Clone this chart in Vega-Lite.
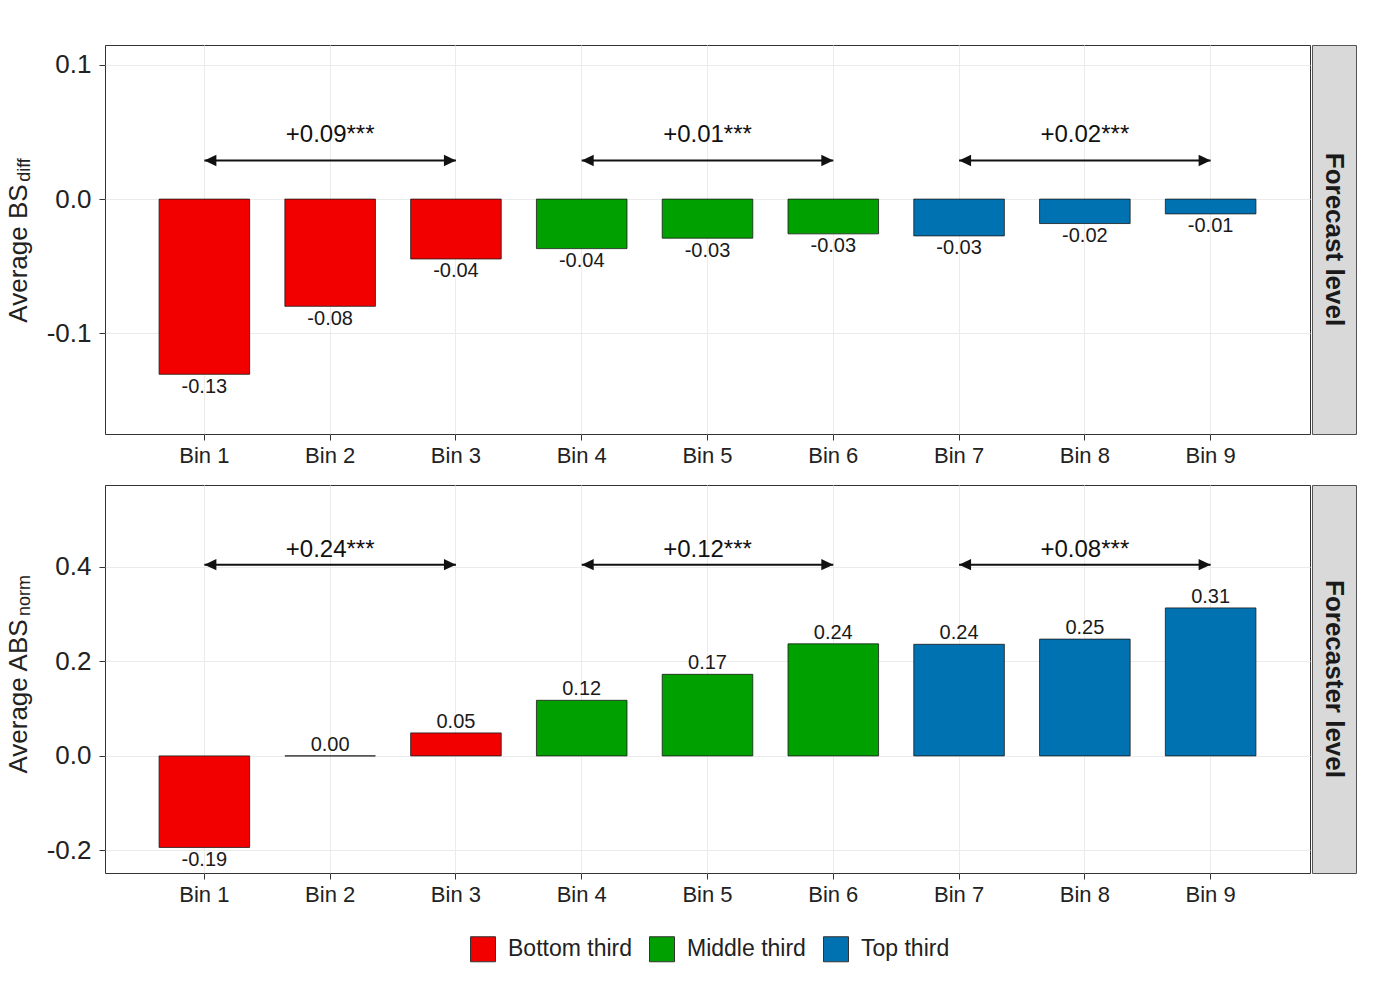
{
  "$schema": "https://vega.github.io/schema/vega-lite/v6.json",
  "padding": {"left": 4, "top": 44, "right": 5, "bottom": 5},
  "background": "white",
  "datasets": {
    "top": [
      {"bin": "Bin 1", "value": -0.1306, "label": "-0.13", "group": "Bottom third"},
      {"bin": "Bin 2", "value": -0.0799, "label": "-0.08", "group": "Bottom third"},
      {"bin": "Bin 3", "value": -0.0446, "label": "-0.04", "group": "Bottom third"},
      {"bin": "Bin 4", "value": -0.0369, "label": "-0.04", "group": "Middle third"},
      {"bin": "Bin 5", "value": -0.0291, "label": "-0.03", "group": "Middle third"},
      {"bin": "Bin 6", "value": -0.0259, "label": "-0.03", "group": "Middle third"},
      {"bin": "Bin 7", "value": -0.0274, "label": "-0.03", "group": "Top third"},
      {"bin": "Bin 8", "value": -0.0182, "label": "-0.02", "group": "Top third"},
      {"bin": "Bin 9", "value": -0.0110, "label": "-0.01", "group": "Top third"}
    ],
    "bottom": [
      {"bin": "Bin 1", "value": -0.1936, "label": "-0.19", "group": "Bottom third"},
      {"bin": "Bin 2", "value": 0.0, "label": "0.00", "group": "Bottom third"},
      {"bin": "Bin 3", "value": 0.0486, "label": "0.05", "group": "Bottom third"},
      {"bin": "Bin 4", "value": 0.1176, "label": "0.12", "group": "Middle third"},
      {"bin": "Bin 5", "value": 0.1725, "label": "0.17", "group": "Middle third"},
      {"bin": "Bin 6", "value": 0.2370, "label": "0.24", "group": "Middle third"},
      {"bin": "Bin 7", "value": 0.2360, "label": "0.24", "group": "Top third"},
      {"bin": "Bin 8", "value": 0.2470, "label": "0.25", "group": "Top third"},
      {"bin": "Bin 9", "value": 0.3130, "label": "0.31", "group": "Top third"}
    ],
    "topArrows": [
      {"from": "Bin 1", "mid": "Bin 2", "to": "Bin 3", "y": 0.0288, "ly": 0.0477, "label": "+0.09***"},
      {"from": "Bin 4", "mid": "Bin 5", "to": "Bin 6", "y": 0.0288, "ly": 0.0477, "label": "+0.01***"},
      {"from": "Bin 7", "mid": "Bin 8", "to": "Bin 9", "y": 0.0288, "ly": 0.0477, "label": "+0.02***"}
    ],
    "bottomArrows": [
      {"from": "Bin 1", "mid": "Bin 2", "to": "Bin 3", "y": 0.4045, "ly": 0.436, "label": "+0.24***"},
      {"from": "Bin 4", "mid": "Bin 5", "to": "Bin 6", "y": 0.4045, "ly": 0.436, "label": "+0.12***"},
      {"from": "Bin 7", "mid": "Bin 8", "to": "Bin 9", "y": 0.4045, "ly": 0.436, "label": "+0.08***"}
    ],
    "strip1": [{"label": "Forecast level"}],
    "strip2": [{"label": "Forecaster level"}]
  },
  "config": {
    "font": "Liberation Sans",
    "view": {"stroke": "#333333", "strokeWidth": 1},
    "axis": {
      "labelFont": "Liberation Sans",
      "titleFont": "Liberation Sans",
      "labelColor": "#222222",
      "titleColor": "#222222",
      "titleFontWeight": "normal",
      "domain": false,
      "grid": true,
      "gridColor": "#ebebeb",
      "gridWidth": 1,
      "tickColor": "#333333",
      "tickWidth": 1
    },
    "legend": {
      "orient": "none",
      "legendX": 365,
      "legendY": 891,
      "direction": "horizontal",
      "title": null,
      "symbolType": "square",
      "symbolSize": 625,
      "symbolStrokeColor": "#333333",
      "symbolStrokeWidth": 1,
      "symbolOpacity": 1,
      "labelFontSize": 23,
      "labelFont": "Liberation Sans",
      "labelColor": "#222222",
      "columnPadding": 15,
      "labelOffset": 12
    }
  },
  "spacing": 17,
  "vconcat": [
    {
      "spacing": 0,
      "hconcat": [
        {
          "width": 1205,
          "height": 389,
          "layer": [
            {
              "data": {"name": "top"},
              "mark": {"type": "bar", "stroke": "#1a1a1a", "strokeWidth": 0.8},
              "encoding": {
                "x": {"field": "bin", "type": "nominal",
                  "scale": {"domain": ["Bin 1","Bin 2","Bin 3","Bin 4","Bin 5","Bin 6","Bin 7","Bin 8","Bin 9"], "paddingInner": 0.28, "paddingOuter": 0.43},
                  "axis": {"title": null, "labelAngle": 0, "labelFontSize": 22, "tickSize": 6, "labelPadding": 5}},
                "y": {"field": "value", "type": "quantitative",
                  "scale": {"domain": [-0.1751, 0.1149], "nice": false, "zero": false},
                  "axis": {"title": "Average BS", "values": [-0.1, 0, 0.1],
                    "labelExpr": "datum.value < 0 ? '-' + format(-datum.value, '.1f') : format(datum.value, '.1f')",
                    "labelFontSize": 26, "tickSize": 6, "labelPadding": 8,
                    "titleFontSize": 26, "titleX": -79, "titleY": 208, "titleAngle": -90, "titleBaseline": "alphabetic", "titleAlign": "center"}},
                "color": {"field": "group", "type": "nominal",
                  "scale": {"domain": ["Bottom third", "Middle third", "Top third"], "range": ["#f20000", "#00a000", "#0072b2"]}}
              }
            },
            {
              "data": {"name": "top"},
              "transform": [{"filter": "datum.value < 0"}],
              "mark": {"type": "text", "baseline": "top", "dy": 2.5, "fontSize": 20, "color": "#1a1a1a"},
              "encoding": {
                "x": {"field": "bin", "type": "nominal"},
                "y": {"field": "value", "type": "quantitative", "axis": null},
                "text": {"field": "label"}
              }
            },
            {
              "data": {"name": "top"},
              "transform": [{"filter": "datum.value >= 0"}],
              "mark": {"type": "text", "baseline": "bottom", "dy": -1, "fontSize": 20, "color": "#1a1a1a"},
              "encoding": {
                "x": {"field": "bin", "type": "nominal"},
                "y": {"field": "value", "type": "quantitative", "axis": null},
                "text": {"field": "label"}
              }
            },
            {
              "mark": {"type": "rule", "color": "#111111", "strokeWidth": 2},
              "encoding": {
                "y": {"datum": 0, "type": "quantitative",
                  "axis": {"title": "diff", "orient": "left", "labels": false, "ticks": false, "domain": false, "grid": false,
                    "titleFontSize": 18, "titleX": -76, "titleY": 124.5, "titleAngle": -90, "titleBaseline": "alphabetic", "titleAlign": "center"}}
              }
            },
            {
              "data": {"name": "topArrows"},
              "mark": {"type": "rule", "color": "#111111", "strokeWidth": 2},
              "encoding": {
                "x": {"field": "from", "type": "nominal"},
                "x2": {"field": "to"},
                "y": {"field": "y", "type": "quantitative", "axis": null}
              }
            },
            {
              "data": {"name": "topArrows"},
              "mark": {"type": "point", "shape": "M-1,0L1,-0.95L1,0.95Z", "filled": true, "color": "#111111", "size": 144, "opacity": 1, "xOffset": 6},
              "encoding": {
                "x": {"field": "from", "type": "nominal"},
                "y": {"field": "y", "type": "quantitative", "axis": null}
              }
            },
            {
              "data": {"name": "topArrows"},
              "mark": {"type": "point", "shape": "M1,0L-1,-0.95L-1,0.95Z", "filled": true, "color": "#111111", "size": 144, "opacity": 1, "xOffset": -6},
              "encoding": {
                "x": {"field": "to", "type": "nominal"},
                "y": {"field": "y", "type": "quantitative", "axis": null}
              }
            },
            {
              "data": {"name": "topArrows"},
              "mark": {"type": "text", "baseline": "middle", "fontSize": 24, "color": "#111111"},
              "encoding": {
                "x": {"field": "mid", "type": "nominal"},
                "y": {"field": "ly", "type": "quantitative", "axis": null},
                "text": {"field": "label"}
              }
            }
          ],
          "resolve": {"axis": {"y": "independent"}}
        },
        {
          "width": 44,
          "height": 389,
          "view": {"fill": "#d9d9d9", "stroke": "#555555", "strokeWidth": 1},
          "data": {"name": "strip1"},
          "mark": {"type": "text", "angle": 90, "fontSize": 26, "fontWeight": "bold", "color": "#1a1a1a", "baseline": "middle", "align": "center"},
          "encoding": {"text": {"field": "label"}}
        }
      ]
    },
    {
      "spacing": 0,
      "hconcat": [
        {
          "width": 1205,
          "height": 388,
          "layer": [
            {
              "data": {"name": "bottom"},
              "mark": {"type": "bar", "stroke": "#1a1a1a", "strokeWidth": 0.8},
              "encoding": {
                "x": {"field": "bin", "type": "nominal",
                  "scale": {"domain": ["Bin 1","Bin 2","Bin 3","Bin 4","Bin 5","Bin 6","Bin 7","Bin 8","Bin 9"], "paddingInner": 0.28, "paddingOuter": 0.43},
                  "axis": {"title": null, "labelAngle": 0, "labelFontSize": 22, "tickSize": 6, "labelPadding": 5}},
                "y": {"field": "value", "type": "quantitative",
                  "scale": {"domain": [-0.2477, 0.573], "nice": false, "zero": false},
                  "axis": {"title": "Average ABS", "values": [-0.2, 0, 0.2, 0.4],
                    "labelExpr": "datum.value < 0 ? '-' + format(-datum.value, '.1f') : format(datum.value, '.1f')",
                    "labelFontSize": 26, "tickSize": 6, "labelPadding": 8,
                    "titleFontSize": 26, "titleX": -79, "titleY": 211, "titleAngle": -90, "titleBaseline": "alphabetic", "titleAlign": "center"}},
                "color": {"field": "group", "type": "nominal",
                  "scale": {"domain": ["Bottom third", "Middle third", "Top third"], "range": ["#f20000", "#00a000", "#0072b2"]}}
              }
            },
            {
              "data": {"name": "bottom"},
              "transform": [{"filter": "datum.value < 0"}],
              "mark": {"type": "text", "baseline": "top", "dy": 2.5, "fontSize": 20, "color": "#1a1a1a"},
              "encoding": {
                "x": {"field": "bin", "type": "nominal"},
                "y": {"field": "value", "type": "quantitative", "axis": null},
                "text": {"field": "label"}
              }
            },
            {
              "data": {"name": "bottom"},
              "transform": [{"filter": "datum.value >= 0"}],
              "mark": {"type": "text", "baseline": "bottom", "dy": -1, "fontSize": 20, "color": "#1a1a1a"},
              "encoding": {
                "x": {"field": "bin", "type": "nominal"},
                "y": {"field": "value", "type": "quantitative", "axis": null},
                "text": {"field": "label"}
              }
            },
            {
              "mark": {"type": "rule", "color": "#111111", "strokeWidth": 2},
              "encoding": {
                "y": {"datum": 0, "type": "quantitative",
                  "axis": {"title": "norm", "orient": "left", "labels": false, "ticks": false, "domain": false, "grid": false,
                    "titleFontSize": 18, "titleX": -76, "titleY": 110, "titleAngle": -90, "titleBaseline": "alphabetic", "titleAlign": "center"}}
              }
            },
            {
              "data": {"name": "bottomArrows"},
              "mark": {"type": "rule", "color": "#111111", "strokeWidth": 2},
              "encoding": {
                "x": {"field": "from", "type": "nominal"},
                "x2": {"field": "to"},
                "y": {"field": "y", "type": "quantitative", "axis": null}
              }
            },
            {
              "data": {"name": "bottomArrows"},
              "mark": {"type": "point", "shape": "M-1,0L1,-0.95L1,0.95Z", "filled": true, "color": "#111111", "size": 144, "opacity": 1, "xOffset": 6},
              "encoding": {
                "x": {"field": "from", "type": "nominal"},
                "y": {"field": "y", "type": "quantitative", "axis": null}
              }
            },
            {
              "data": {"name": "bottomArrows"},
              "mark": {"type": "point", "shape": "M1,0L-1,-0.95L-1,0.95Z", "filled": true, "color": "#111111", "size": 144, "opacity": 1, "xOffset": -6},
              "encoding": {
                "x": {"field": "to", "type": "nominal"},
                "y": {"field": "y", "type": "quantitative", "axis": null}
              }
            },
            {
              "data": {"name": "bottomArrows"},
              "mark": {"type": "text", "baseline": "middle", "fontSize": 24, "color": "#111111"},
              "encoding": {
                "x": {"field": "mid", "type": "nominal"},
                "y": {"field": "ly", "type": "quantitative", "axis": null},
                "text": {"field": "label"}
              }
            }
          ],
          "resolve": {"axis": {"y": "independent"}}
        },
        {
          "width": 44,
          "height": 388,
          "view": {"fill": "#d9d9d9", "stroke": "#555555", "strokeWidth": 1},
          "data": {"name": "strip2"},
          "mark": {"type": "text", "angle": 90, "fontSize": 26, "fontWeight": "bold", "color": "#1a1a1a", "baseline": "middle", "align": "center"},
          "encoding": {"text": {"field": "label"}}
        }
      ]
    }
  ]
}
